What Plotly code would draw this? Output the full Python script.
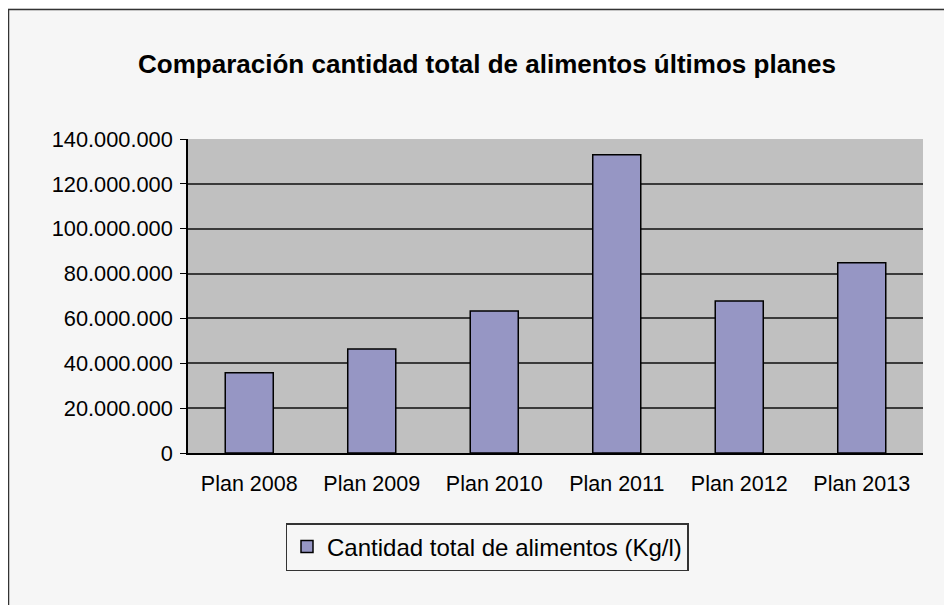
import plotly.graph_objects as go

categories = ["Plan 2008", "Plan 2009", "Plan 2010", "Plan 2011", "Plan 2012", "Plan 2013"]
values = [35_800_000, 46_400_000, 63_300_000, 133_000_000, 67_800_000, 84_800_000]
series_name = "Cantidad total de alimentos (Kg/l)"
title_text = "Comparación cantidad total de alimentos últimos planes"
y_ticks = [0, 20_000_000, 40_000_000, 60_000_000, 80_000_000, 100_000_000, 120_000_000, 140_000_000]

FONT = "Liberation Sans, Arial, sans-serif"

# The page body has an 8px default margin; layout positions below are
# expressed in window pixels and shifted by OFF into figure pixels.
OFF = 8
W, H = 944, 597
PL, PR, PT, PB = 188, 923, 139, 453  # plot area in window pixels
L, R, T, B = PL - OFF, W - (PR - OFF), PT - OFF, H - (PB - OFF)
pw, ph = W - L - R, H - T - B

def px_x(px):
    return (px - OFF - L) / pw

def px_y(py):
    return (H - B - (py - OFF)) / ph

fig = go.Figure()
fig.add_trace(go.Bar(
    x=categories, y=values, name=series_name,
    marker=dict(color="#9696C4", line=dict(color="#000000", width=1.5)),
    showlegend=True,
))

fig.update_layout(
    width=W, height=H,
    margin=dict(l=L, r=R, t=T, b=B, autoexpand=False),
    paper_bgcolor="#F6F6F6",
    plot_bgcolor="#C0C0C0",
    separators=",.",
    font=dict(family=FONT, color="#000000", size=21),
    bargap=0.608,
    title=dict(
        text="<b>" + title_text + "</b>",
        font=dict(family=FONT, size=26, color="#000000"),
        x=(487 - OFF) / W, xanchor="center", xref="container",
        y=1 - (64 - OFF) / H, yanchor="middle", yref="container",
    ),
    xaxis=dict(
        showgrid=False, showline=True, linecolor="#000000", linewidth=1.5,
        ticks="", tickfont=dict(size=21.5), ticklabelstandoff=10,
    ),
    yaxis=dict(
        range=[0, 140_000_000], tickvals=y_ticks, tickformat=",d",
        showgrid=True, gridcolor="#3A3A3A", gridwidth=1.6,
        showline=True, linecolor="#000000", linewidth=1.5,
        ticks="outside", ticklen=6, tickcolor="#000000", tickwidth=1.2,
        tickfont=dict(size=21.8), ticklabelstandoff=3, zeroline=False,
    ),
    legend=dict(
        orientation="h",
        x=px_x(487), xanchor="center",
        y=px_y(523), yanchor="top",
        bgcolor="rgba(0,0,0,0)", bordercolor="#333333", borderwidth=1.5,
        font=dict(family=FONT, size=24, color="#000000"),
    ),
    shapes=[dict(
        type="rect", xref="paper", yref="paper",
        x0=px_x(8.5), x1=px_x(990), y0=px_y(650), y1=px_y(9.5),
        line=dict(color="#333333", width=1.5), fillcolor="rgba(0,0,0,0)",
        layer="below",
    )],
)

fig.write_html("out.html")
